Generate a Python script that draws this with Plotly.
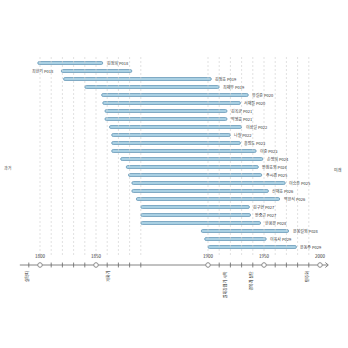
import numpy as np
import plotly.graph_objects as go

# ---------------- data ----------------
names = ["김정희 P018", "최한기 P018", "김정호 P019", "최제우 P019", "유길준 P020",
         "서재필 P020", "김옥균 P021", "박영효 P021", "이상설 P022", "나철 P022",
         "홍범도 P023", "이준 P023", "손병희 P024", "안창호외 P024", "주시경 P025",
         "이승훈 P025", "신채호 P026", "박은식 P026", "김구현 P027", "안중근 P027",
         "한용운 P028", "윤봉길외 P028", "이육사 P029", "윤동주 P029"]
start_year = [1798, 1819, 1821, 1840, 1855, 1856, 1858, 1858, 1862, 1864, 1864, 1864,
              1872, 1877, 1879, 1882, 1882, 1886, 1890, 1890, 1890, 1899, 1899.5, 1900]
end_year = [1856, 1882, 1903, 1910, 1936, 1929, 1917, 1917, 1930, 1920, 1929, 1943,
            1949, 1945, 1948, 1969, 1954, 1964, 1937, 1938, 1947, 1972, 1952, 1979]
label_side = ["right", "left"] + ["right"] * 22

major_years = [1800, 1850, 1900, 1950, 2000]
minor_years = [1790, 1800, 1810, 1820, 1830, 1840, 1850, 1860, 1870, 1880, 1890,
               1900, 1910, 1920, 1930, 1940, 1950, 1960, 1970, 1980, 1990, 2000]
grid_years = [1800, 1810, 1820, 1830, 1840, 1850, 1860, 1870, 1880, 1890,
              1900, 1910, 1920, 1930, 1940, 1950, 1960, 1970, 1980, 1990]
event_years = [1788, 1860, 1915, 1938, 1988]
event_labels = ["실학파", "개화기", "일제강점기 시작", "광복과 분단", "민주화"]
axis_start, axis_end = 1782, 2007
left_label, right_label = "과거", "미래"

# ---------------- scale (broken time axis) ----------------
SCALE_YEARS = [1780, 1890, 1900, 2010]
SCALE_PX = [17.6, 140.8, 208.0, 331.2]


def xs(y):
    return np.interp(np.asarray(y, dtype=float), SCALE_YEARS, SCALE_PX)


ROW0, ROWSTEP = 63, 8
rows = [ROW0 + ROWSTEP * i for i in range(len(names))]
AXIS_Y = 265
GRID_TOP, GRID_BOTTOM = 57, 255

FONT = "Noto Sans CJK KR"
fig = go.Figure()

# grid lines
gx, gy = [], []
for g in grid_years:
    p = float(xs(g))
    gx += [p, p, None]
    gy += [GRID_TOP, GRID_BOTTOM, None]
fig.add_trace(go.Scatter(x=gx, y=gy, mode="lines",
                         line=dict(color="#d4d4d4", width=0.7, dash="2px,2px"),
                         hoverinfo="skip", showlegend=False))

# bars
sx = xs(start_year)
ex = xs(end_year)
fig.add_trace(go.Bar(orientation="h", base=sx, x=ex - sx, y=rows, width=3,
                     marker=dict(color="#a9d0e3", line=dict(color="#6b9bb9", width=0.8),
                                 cornerradius=1.5),
                     showlegend=False, hoverinfo="skip"))

# bar labels
for n, s, e, r, side in zip(names, sx, ex, rows, label_side):
    if side == "right":
        fig.add_annotation(x=e + 2, y=r, text=n, showarrow=False, xanchor="left",
                           yanchor="middle", font=dict(family=FONT, size=4, color="#333"))
    else:
        fig.add_annotation(x=s - 5, y=r, text=n, showarrow=False, xanchor="right",
                           yanchor="middle", font=dict(family=FONT, size=4, color="#333"))

# timeline axis line
a0, a1 = float(xs(axis_start)), float(xs(axis_end))
fig.add_trace(go.Scatter(x=[a0, a1], y=[AXIS_Y, AXIS_Y], mode="lines",
                         line=dict(color="#666", width=0.8), hoverinfo="skip", showlegend=False))
# arrow head
fig.add_trace(go.Scatter(x=[a1 - 2.5, a1 + 0.5, a1 - 2.5], y=[AXIS_Y - 2.5, AXIS_Y, AXIS_Y + 2.5],
                         mode="lines", line=dict(color="#666", width=0.8),
                         hoverinfo="skip", showlegend=False))
# minor ticks
fig.add_trace(go.Scatter(x=xs(minor_years), y=[AXIS_Y] * len(minor_years), mode="markers",
                         marker=dict(symbol="line-ns", size=3.5, line=dict(color="#666", width=0.8)),
                         hoverinfo="skip", showlegend=False))
# major circles
fig.add_trace(go.Scatter(x=xs(major_years), y=[AXIS_Y] * len(major_years), mode="markers",
                         marker=dict(symbol="circle", size=4.5, color="white",
                                     line=dict(color="#777", width=0.8)),
                         hoverinfo="skip", showlegend=False))
for yv in major_years:
    fig.add_annotation(x=float(xs(yv)), y=AXIS_Y - 4, text=str(yv), showarrow=False,
                       xanchor="center", yanchor="bottom",
                       font=dict(family=FONT, size=4.5, color="#333"))

# event labels (vertical)
for yv, t in zip(event_years, event_labels):
    fig.add_annotation(x=float(xs(yv)), y=AXIS_Y + 4, text=t, showarrow=False, textangle=-90,
                       xanchor="center", yanchor="top",
                       font=dict(family=FONT, size=4, color="#222"))

# side labels
fig.add_annotation(x=8, y=168, text=left_label, showarrow=False, xanchor="center",
                   yanchor="middle", font=dict(family=FONT, size=4, color="#444"))
fig.add_annotation(x=338, y=170, text=right_label, showarrow=False, xanchor="center",
                   yanchor="middle", font=dict(family=FONT, size=4, color="#444"))

fig.update_layout(width=348, height=348, margin=dict(l=0, r=0, t=0, b=0),
                  plot_bgcolor="white", paper_bgcolor="white", showlegend=False,
                  xaxis=dict(range=[0, 348], visible=False, fixedrange=True),
                  yaxis=dict(range=[348, 0], visible=False, fixedrange=True))

fig.write_html("out.html")
